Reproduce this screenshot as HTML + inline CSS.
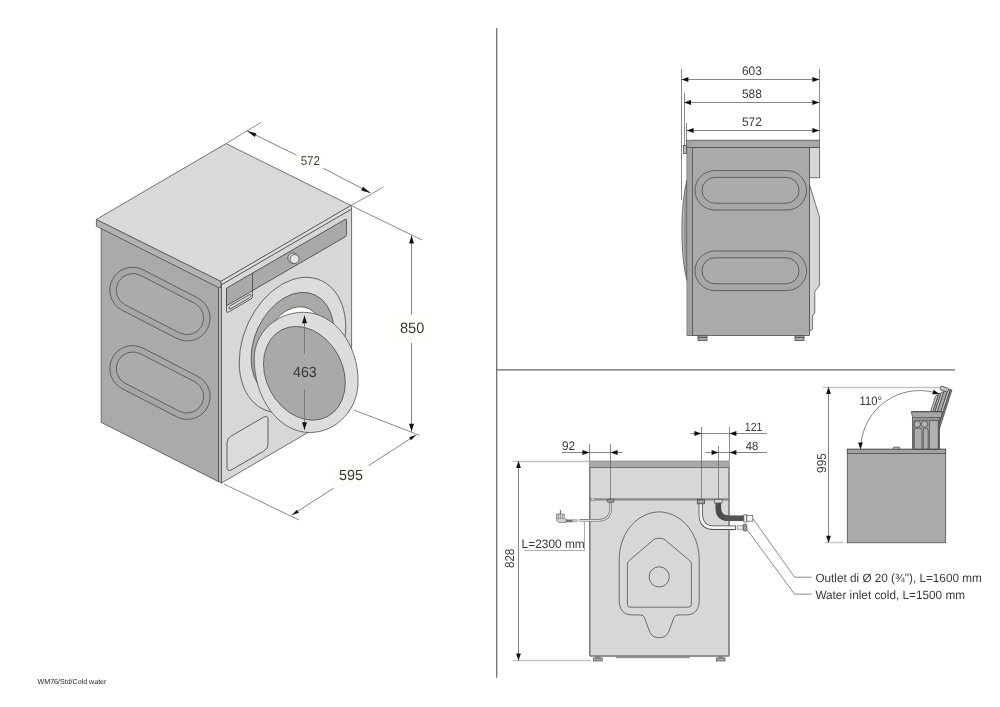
<!DOCTYPE html>
<html><head><meta charset="utf-8"><title>WM76/Std/Cold water</title>
<style>
html,body{margin:0;padding:0;background:#fff;}
body{width:1000px;height:707px;overflow:hidden;font-family:"Liberation Sans",sans-serif;}
svg{display:block;will-change:transform;}
text{font-family:"Liberation Sans",sans-serif;fill:#3a3a3a;-webkit-font-smoothing:antialiased;text-rendering:geometricPrecision;}
.dl{stroke:#767676;stroke-width:0.9;fill:none;}
.ei{stroke:#606060;stroke-width:0.7;fill:none;}
.el{stroke:#585858;stroke-width:0.7;fill:none;}
.eu{stroke:#b0b0b0;stroke-width:1;fill:none;}
.eg{stroke:#c4c4c4;stroke-width:1.5;fill:none;}
.ar{fill:#111;stroke:none;}
.o{stroke:#484848;stroke-width:0.75;}
.on{stroke:#484848;stroke-width:0.75;fill:none;}
.ns{vector-effect:non-scaling-stroke;}
</style></head><body>
<svg width="1000" height="707" viewBox="0 0 1000 707">
<rect width="1000" height="707" fill="#ffffff"/>
<line x1="496.7" y1="28" x2="496.7" y2="677.7" stroke="#666" stroke-width="1.2"/>
<line x1="496.7" y1="369.8" x2="955" y2="369.8" stroke="#666" stroke-width="1.2"/>
<g id="iso">
<line class="el" x1="226.00" y1="143.60" x2="261.00" y2="122.40"/>
<line class="el" x1="351.00" y1="205.50" x2="383.60" y2="187.00"/>
<line class="el" x1="351.00" y1="205.50" x2="422.00" y2="240.00"/>
<line class="el" x1="354.00" y1="410.00" x2="419.50" y2="435.30"/>
<line class="el" x1="224.00" y1="484.00" x2="299.00" y2="520.00"/>
<polygon points="101.2,228 218.5,287 218.5,481.7 101.2,422.4" fill="#aaaaaa" class="o"/>
<polygon points="218.5,286.5 221.5,284.6 221.5,483 218.5,481.7" fill="#b9b9b9" class="o"/>
<polygon points="221.5,284.6 351.6,209 351.6,407 221.5,483" fill="#d7d7d7" class="o"/>
<polygon points="96.4,219.4 221,281.4 221,287.6 218.5,287.6 96.4,226.2" fill="#b2b2b2" class="o"/>
<polygon points="96.4,219.4 226,143.6 351,205.5 221,281.4" fill="#d9d9d9" class="o"/>
<polygon points="221,281.4 351,205.5 351.6,209 221.5,284.6" fill="#dedede" class="o"/>
<path class="o" fill="#a6a6a6" d="M143.05,269.73 L197.75,297.93 A22.80,22.80 0 0 1 176.85,338.47 L122.15,310.27 A22.80,22.80 0 0 1 143.05,269.73 Z"/>
<path class="o" fill="#ababab" d="M140.21,275.25 L194.91,303.45 A16.60,16.60 0 0 1 179.69,332.95 L124.99,304.75 A16.60,16.60 0 0 1 140.21,275.25 Z"/>
<path class="o" fill="#a6a6a6" d="M143.05,348.13 L197.75,376.33 A22.80,22.80 0 0 1 176.85,416.87 L122.15,388.67 A22.80,22.80 0 0 1 143.05,348.13 Z"/>
<path class="o" fill="#ababab" d="M140.21,353.65 L194.91,381.85 A16.60,16.60 0 0 1 179.69,411.35 L124.99,383.15 A16.60,16.60 0 0 1 140.21,353.65 Z"/>
<g transform="matrix(1,-0.58,0,1,221.5,284.6)">
<path class="o" d="M5,6.5 H123.5 Q125,6.5 125,8 V22.5 Q125,24 123.5,24 H5 Z" fill="#a9a9a9"/>
<path class="on" d="M31,6.5 V30 Q31,31.5 29.5,31.5 H7 Q5,31.5 5,29.5 V6.5"/>
<rect class="on" x="7.5" y="26.2" width="22" height="3.2" rx="1.6"/>
<rect class="o" x="5.5" y="157" width="41" height="34" rx="4.5" fill="#dbdbdb"/>
</g>
<g transform="matrix(1,-0.325,0,1,292.5,345)"><ellipse class="o" cx="0" cy="0" rx="53.30" ry="65.45" fill="#dcdcdc"/></g>
<g transform="matrix(1,-0.325,0,1,292.5,345)"><ellipse class="o" cx="0" cy="0" rx="41.41" ry="50.85" fill="#a9a9a9"/></g>
<g transform="matrix(1,-0.325,0,1,292.5,345)"><ellipse class="o" cx="0" cy="0" rx="30.11" ry="36.98" fill="#fdfdf8"/></g>
<circle class="o" cx="293.1" cy="258.1" r="5.3" fill="#cfcfcf"/>
<circle class="o" cx="294.6" cy="259" r="4.5" fill="#e6e6e6"/>
<path class="o" fill="#dddddd" d="M303.30,312.30 C333.57,312.30 358.10,343.28 358.10,381.50 C358.10,409.67 336.52,432.50 309.90,432.50 C279.14,432.50 254.20,399.37 254.20,358.50 C254.20,332.98 276.18,312.30 303.30,312.30 Z"/>
<g transform="matrix(1,0.232,0,1,304.4,373.3)"><ellipse class="o" cx="0" cy="0" rx="40.9" ry="45.9" fill="#a9a9a9"/></g>
<line class="dl" x1="247.10" y1="130.90" x2="296.80" y2="155.30"/>
<line class="dl" x1="323.20" y1="168.20" x2="370.50" y2="192.90"/>
<polygon class="ar" points="247.10,130.90 256.49,133.38 254.69,136.95"/>
<polygon class="ar" points="370.50,192.90 361.11,190.42 362.91,186.85"/>
<rect x="297" y="152" width="26" height="17" fill="#fffffa"/>
<text x="310.30" y="164.80" font-size="12.8" text-anchor="middle" textLength="19.3" lengthAdjust="spacingAndGlyphs">572</text>
<line class="dl" x1="411.50" y1="235.60" x2="411.50" y2="314.70"/>
<line class="dl" x1="411.50" y1="342.90" x2="411.50" y2="431.50"/>
<polygon class="ar" points="411.50,235.60 414.00,243.40 409.00,243.40"/>
<polygon class="ar" points="411.50,431.50 409.00,423.70 414.00,423.70"/>
<rect x="392" y="315" width="39" height="28" fill="#fffffa"/>
<text x="412.10" y="332.70" font-size="15" text-anchor="middle" textLength="24.4" lengthAdjust="spacingAndGlyphs">850</text>
<line class="dl" x1="292.00" y1="515.00" x2="337.00" y2="486.00"/>
<line class="dl" x1="364.75" y1="468.10" x2="416.00" y2="435.00"/>
<polygon class="ar" points="292.00,515.00 296.96,509.78 298.80,512.63"/>
<polygon class="ar" points="416.00,435.00 411.04,440.22 409.20,437.37"/>
<rect x="334" y="462.5" width="34.5" height="27" fill="#fffffa"/>
<text x="351.00" y="479.70" font-size="14.6" text-anchor="middle" textLength="24" lengthAdjust="spacingAndGlyphs">595</text>
<line class="dl" x1="304.50" y1="315.50" x2="304.50" y2="354.00"/>
<line class="dl" x1="304.50" y1="389.00" x2="304.50" y2="430.00"/>
<polygon class="ar" points="304.50,315.50 307.00,323.30 302.00,323.30"/>
<polygon class="ar" points="304.50,430.00 302.00,422.20 307.00,422.20"/>
<text x="304.90" y="376.80" font-size="14.8" text-anchor="middle" textLength="23.8" lengthAdjust="spacingAndGlyphs">463</text>
</g>
<g id="side">
<line class="el" x1="681.50" y1="69.00" x2="681.50" y2="200.00"/>
<line class="el" x1="684.50" y1="93.00" x2="684.50" y2="148.00"/>
<line class="el" x1="686.50" y1="123.00" x2="686.50" y2="140.00"/>
<line class="el" x1="819.50" y1="69.00" x2="819.50" y2="140.00"/>
<path class="o" d="M687,180 C680.2,205 680.2,256 687,280.5 Z" fill="#bdbdbd"/>
<path d="M687,181.5 C683.2,206 683.2,255 687,279 Z" fill="#989898" stroke="#777" stroke-width="0.4"/>
<rect class="o" x="809.4" y="147.4" width="10" height="30.4" fill="#d6d6d6" stroke="#888"/>
<path class="o" d="M809.4,184.3 L819.4,217 V285.3 L814.8,291.5 V313 L812.4,316 V329.5 L809.4,331 Z" fill="#d6d6d6"/>
<rect class="o" x="698.0" y="335.6" width="9" height="1.8" fill="#999"/>
<rect class="o" x="698.0" y="337.4" width="9" height="3.2" fill="#aaa"/>
<rect class="o" x="795.0" y="335.6" width="9" height="1.8" fill="#999"/>
<rect class="o" x="795.0" y="337.4" width="9" height="3.2" fill="#aaa"/>
<rect class="o" x="687" y="147.4" width="122.4" height="188.2" fill="#aaaaaa"/>
<rect x="687.4" y="147.8" width="5" height="187.4" fill="#a3a3a3"/>
<line class="on" x1="692.50" y1="147.40" x2="692.50" y2="335.60"/>
<rect class="o" x="686.6" y="140.2" width="132.8" height="7.2" fill="#a8a8a8"/>
<rect x="687" y="140.6" width="5.4" height="6.6" fill="#a0a0a0"/>
<rect class="o" x="683.6" y="145.4" width="3" height="8" fill="#bbb"/>
<rect class="o" x="695" y="170.6" width="111.6" height="39.4" rx="19.7" fill="#a7a7a7"/>
<rect class="o" x="702" y="177.4" width="97" height="25.8" rx="12.9" fill="#ababab"/>
<rect class="o" x="695" y="251.0" width="111.6" height="39.6" rx="19.8" fill="#a7a7a7"/>
<rect class="o" x="702" y="257.8" width="97" height="26.0" rx="13.0" fill="#ababab"/>
<line class="dl" x1="681.40" y1="79.50" x2="819.40" y2="79.50"/>
<polygon class="ar" points="681.40,79.50 688.40,77.10 688.40,81.90"/>
<polygon class="ar" points="819.40,79.50 812.40,81.90 812.40,77.10"/>
<line class="dl" x1="684.00" y1="102.50" x2="819.40" y2="102.50"/>
<polygon class="ar" points="684.00,102.50 691.00,100.10 691.00,104.90"/>
<polygon class="ar" points="819.40,102.50 812.40,104.90 812.40,100.10"/>
<line class="dl" x1="686.60" y1="130.50" x2="819.40" y2="130.50"/>
<polygon class="ar" points="686.60,130.50 693.60,128.10 693.60,132.90"/>
<polygon class="ar" points="819.40,130.50 812.40,132.90 812.40,128.10"/>
<text x="751.90" y="74.50" font-size="12.4" text-anchor="middle" textLength="19.9" lengthAdjust="spacingAndGlyphs">603</text>
<text x="751.90" y="97.90" font-size="12.4" text-anchor="middle" textLength="19.9" lengthAdjust="spacingAndGlyphs">588</text>
<text x="751.90" y="126.10" font-size="12.4" text-anchor="middle" textLength="19.9" lengthAdjust="spacingAndGlyphs">572</text>
</g>
<g id="back">
<line class="el" x1="589.50" y1="444.00" x2="589.50" y2="461.00"/>
<line class="eg" x1="513.00" y1="461.50" x2="589.00" y2="461.50"/>
<line class="eg" x1="513.00" y1="660.50" x2="591.00" y2="660.50"/>
<line class="el" x1="729.50" y1="427.00" x2="729.50" y2="461.00"/>
<rect x="595.8" y="656" width="4.4" height="2.2" fill="#999" stroke="#666" stroke-width="0.5"/>
<rect x="593.6" y="658" width="8.7" height="3" fill="#a8a8a8" stroke="#555" stroke-width="0.7"/>
<rect x="718.5" y="656" width="4.4" height="2.2" fill="#999" stroke="#666" stroke-width="0.5"/>
<rect x="716.3" y="658" width="8.7" height="3" fill="#a8a8a8" stroke="#555" stroke-width="0.7"/>
<rect x="616" y="656" width="74" height="2.2" fill="#999"/>
<path d="M589.4,467.6 H729.4 V655.4 Q729.4,656.6 728.2,656.6 H590.6 Q589.4,656.6 589.4,655.4 Z" fill="#d7d7d7"/>
<rect x="589.4" y="498.2" width="140" height="2.4" fill="#8c8c8c"/>
<path d="M589.8,467.6 V655.2 Q589.8,656 590.8,656 H728 Q729,656 729,655.2 V467.6" fill="none" stroke="#777" stroke-width="1.5"/>
<path d="M589.4,467.6 V462 Q589.4,461 590.4,461 H728.4 Q729.4,461 729.4,462 V467.6 Z" fill="#a9a9a9" stroke="#808080" stroke-width="0.7"/>
<rect x="589.4" y="467" width="140" height="1" fill="#777"/>
<line class="el" x1="610.50" y1="444.00" x2="610.50" y2="461.00"/>
<line class="ei" x1="610.50" y1="461.00" x2="610.50" y2="500.00"/>
<line class="el" x1="701.50" y1="427.00" x2="701.50" y2="461.00"/>
<line class="ei" x1="701.50" y1="461.00" x2="701.50" y2="500.00"/>
<line class="el" x1="718.50" y1="446.00" x2="718.50" y2="461.00"/>
<line class="ei" x1="718.50" y1="461.00" x2="718.50" y2="500.00"/>
<path class="on" d="M659.2,511.9 C640,511.9 619.2,530 619.2,560 V600 C619.2,609.5 623.5,614.9 632,614.9 H640.5 Q643.4,614.9 644.5,617.8 L649.4,631 C651.4,636 655,637.7 659.2,637.7 C663.4,637.7 667,636 669,631 L673.9,617.8 Q675,614.9 677.9,614.9 H686.4 C694.9,614.9 699.2,609.5 699.2,600 V560 C699.2,530 678.4,511.9 659.2,511.9 Z"/>
<path class="on" d="M653.4,539.9 Q655.2,538.4 657.2,538.4 H661.2 Q663.2,538.4 665,539.9 L689.9,560.8 Q691.4,562.1 691.4,564.4 V604.2 Q691.4,607.2 688.4,607.2 H630.4 Q627.4,607.2 627.4,604.2 V564.4 Q627.4,562.1 628.9,560.8 Z"/>
<circle class="on" cx="659.2" cy="576.9" r="10.1"/>
<path d="M610.6,502.5 V508 Q610.6,520.3 598,520.3 H579.6" fill="none" stroke="#6a6a6a" stroke-width="2.6"/>
<path d="M610.6,502.5 V508 Q610.6,520.3 598,520.3 H580" fill="none" stroke="#dcdcdc" stroke-width="1.3"/>
<rect class="o" x="607.2" y="499.4" width="6.8" height="2.8" rx="1" fill="#a0a0a0"/>
<rect x="591" y="498.2" width="3.5" height="2.2" fill="#ddd" stroke="#777" stroke-width="0.5"/>
<rect x="559.9" y="509.8" width="1.1" height="4.4" fill="#777"/>
<path d="M556.6,514 H564.3 V518.3 L566.1,519.4 V522.5 H558.6 L556.6,520.6 Z" fill="#d4d4d4" stroke="#555" stroke-width="0.6"/>
<path d="M558.4,514.2 V518.4 M560.4,514.2 V518.4 M562.4,514.2 V518.4 M556.8,518.6 H564.2" stroke="#666" stroke-width="0.5" fill="none"/>
<rect x="566.1" y="519.5" width="6.5" height="2.7" fill="#707070"/>
<rect x="572.6" y="519.6" width="4.8" height="2.4" fill="#c4c4c4" stroke="#888" stroke-width="0.4"/>
<line class="eu" x1="584.50" y1="521.00" x2="584.50" y2="550.70"/>
<line class="eu" x1="524.00" y1="550.50" x2="584.70" y2="550.50"/>
<text x="521.60" y="547.70" font-size="12.2" text-anchor="start" textLength="63.2" lengthAdjust="spacingAndGlyphs">L=2300 mm</text>
<path d="M700.8,503.5 V514 Q700.8,527.7 714,527.7 H735.8" fill="none" stroke="#4a4a4a" stroke-width="4.4"/>
<path d="M700.8,503.5 V514 Q700.8,527.7 714,527.7 H736" fill="none" stroke="#f4f4f4" stroke-width="2.8"/>
<rect x="735.2" y="525.6" width="0.8" height="4.2" fill="#555"/>
<rect x="697.3" y="499.4" width="7.2" height="4.4" fill="#9a9a9a" stroke="#444" stroke-width="0.7"/>
<rect x="699.3" y="500.6" width="3.2" height="2" fill="#d0d0d0" stroke="#555" stroke-width="0.4"/>
<rect x="737.2" y="525.8" width="6" height="3.4" fill="#eee" stroke="#666" stroke-width="0.6"/>
<rect x="743.2" y="524.2" width="3.6" height="6.8" rx="1" fill="#999" stroke="#444" stroke-width="0.7"/>
<path d="M718.3,503 V508 Q718.3,518.3 729,518.3 H744" fill="none" stroke="#4a4a4a" stroke-width="5.6"/>
<path d="M724,515.6 V521 M726,515.6 V521 M728,515.6 V521 M730,515.6 V521 M732,515.6 V521 M734,515.6 V521 M736,515.6 V521 M738,515.6 V521 M740,515.6 V521 M742,515.6 V521" stroke="#6a6a6a" stroke-width="0.6"/>
<rect x="714.6" y="499.4" width="7.4" height="3.6" fill="#d8d8d8" stroke="#555" stroke-width="0.7"/>
<path d="M722,500.5 L726,499.2 H728.5" stroke="#888" stroke-width="0.6" fill="none"/>
<rect x="743.8" y="514.8" width="3" height="7.2" fill="#eee" stroke="#555" stroke-width="0.7"/>
<rect x="746.8" y="515.6" width="6" height="5.6" fill="#f4f4f4" stroke="#555" stroke-width="0.7"/>
<path class="el" d="M753,518.7 L794.6,577.2 H811.5"/>
<path class="el" d="M747.3,530 L794.6,594.1 H811.5"/>
<text x="815.40" y="582.10" font-size="12" text-anchor="start" textLength="166.4" lengthAdjust="spacingAndGlyphs">Outlet di Ø 20 (¾&quot;), L=1600 mm</text>
<text x="815.40" y="599.00" font-size="12" text-anchor="start" textLength="149.6" lengthAdjust="spacingAndGlyphs">Water inlet cold, L=1500 mm</text>
<line class="dl" x1="562.00" y1="452.50" x2="622.40" y2="452.50"/>
<polygon class="ar" points="589.40,452.50 582.40,454.90 582.40,450.10"/>
<polygon class="ar" points="610.60,452.50 617.60,450.10 617.60,454.90"/>
<text x="568.60" y="450.20" font-size="12.4" text-anchor="middle" textLength="13.2" lengthAdjust="spacingAndGlyphs">92</text>
<line class="dl" x1="690.40" y1="433.50" x2="767.00" y2="433.50"/>
<polygon class="ar" points="701.40,433.50 694.40,435.90 694.40,431.10"/>
<polygon class="ar" points="729.40,433.50 736.40,431.10 736.40,435.90"/>
<text x="753.60" y="431.00" font-size="12" text-anchor="middle" textLength="17.6" lengthAdjust="spacingAndGlyphs">121</text>
<line class="dl" x1="705.40" y1="452.50" x2="767.00" y2="452.50"/>
<polygon class="ar" points="718.60,452.50 711.60,454.90 711.60,450.10"/>
<polygon class="ar" points="729.40,452.50 736.40,450.10 736.40,454.90"/>
<text x="752.00" y="450.20" font-size="12" text-anchor="middle" textLength="12.6" lengthAdjust="spacingAndGlyphs">48</text>
<line class="dl" x1="518.50" y1="461.00" x2="518.50" y2="660.60"/>
<polygon class="ar" points="518.50,461.00 520.90,468.00 516.10,468.00"/>
<polygon class="ar" points="518.50,660.60 516.10,653.60 520.90,653.60"/>
<text transform="translate(513.5,558.4) rotate(-90)" font-size="12.8" text-anchor="middle" textLength="19.4" lengthAdjust="spacingAndGlyphs">828</text>
</g>
<g id="v995">
<line class="eg" x1="822.80" y1="387.50" x2="940.40" y2="387.50"/>
<line class="eg" x1="825.00" y1="542.50" x2="843.60" y2="542.50"/>
<line class="dl" x1="828.50" y1="387.00" x2="828.50" y2="542.80"/>
<polygon class="ar" points="828.50,387.00 830.90,394.00 826.10,394.00"/>
<polygon class="ar" points="828.50,542.80 826.10,535.80 830.90,535.80"/>
<text transform="translate(825.8,463.1) rotate(-90)" font-size="12.9" text-anchor="middle" textLength="19.6" lengthAdjust="spacingAndGlyphs">995</text>
<rect class="o" x="847.3" y="449.2" width="98.4" height="93.6" fill="#aaaaaa"/>
<rect class="o" x="847.3" y="449.2" width="98.4" height="4.2" fill="#a2a2a2"/>
<rect class="o" x="893.2" y="447.2" width="6.6" height="2" rx="0.8" fill="#bbb"/>
<g transform="rotate(17.9 939.8 427.5)">
<path class="o" d="M926.20,430 V399.00 Q926.20,398.00 927.20,398.00 H928.40 V430 Z" fill="#d2d2d2" stroke-width="0.6"/>
<path class="o" d="M928.40,430 V396.00 Q928.40,395.00 929.40,395.00 H930.40 V430 Z" fill="#b0b0b0" stroke-width="0.6"/>
<path class="o" d="M930.40,430 V394.00 Q930.40,393.00 931.40,393.00 H932.60 V430 Z" fill="#cfcfcf" stroke-width="0.6"/>
<path class="o" d="M932.60,430 V390.50 Q932.60,389.50 933.60,389.50 H936.00 V430 Z" fill="#a8a8a8" stroke-width="0.6"/>
<path class="o" d="M936.00,430 V389.00 Q936.00,388.00 937.00,388.00 H938.20 V430 Z" fill="#c8c8c8" stroke-width="0.6"/>
<path class="o" d="M938.20,430 V389.00 Q938.20,388.00 939.20,388.00 H939.80 V430 Z" fill="#8c8c8c" stroke-width="0.6"/>
<rect class="o" x="928.2" y="387.6" width="8.2" height="3.8" rx="1" fill="#c4c4c4"/>
</g>
<rect class="o" x="912.4" y="417.5" width="27.1" height="31.9" fill="#a6a6a6"/>
<path class="o" d="M911.3,411.6 H942.3 L941.3,417.7 H912.6 Z" fill="#a6a6a6"/>
<path d="M911.2,411.7 H942.4" stroke="#505050" stroke-width="1.1" fill="none"/>
<path class="on" d="M913.9,449 V420.2 H938.6 V449" stroke-width="0.6"/>
<path class="o" d="M914.2,449 V430.5 Q914.2,428.2 916.5,428.2 H919.8 Q922,428.2 922,430.5 V449 Z" fill="#ababab" stroke-width="0.6"/>
<path class="o" d="M923.2,449 V430.5 Q923.2,428.2 925,428.2 H926.5 Q928.2,428.2 928.2,430.5 V449 Z" fill="#ababab" stroke-width="0.6"/>
<path class="o" d="M929.4,449 V422.5 Q929.4,420.6 931.4,420.6 H936.4 Q938.3,420.6 938.3,422.5 V449 Z" fill="#b0b0b0" stroke-width="0.6"/>
<circle class="o" cx="917.3" cy="424.1" r="3.3" fill="#b2b2b2"/>
<circle class="o" cx="924.6" cy="424.1" r="3.3" fill="#b2b2b2"/>
<path class="dl" d="M860.9,444 A59,59 0 0 1 934.3,392.4"/>
<polygon class="ar" points="860.50,449.40 858.10,442.40 862.90,442.40"/>
<polygon class="ar" points="939.60,394.20 932.20,394.24 933.73,389.69"/>
<text x="870.80" y="405.00" font-size="12.2" text-anchor="middle" textLength="22.4" lengthAdjust="spacingAndGlyphs">110°</text>
</g>
<text x="37.60" y="683.60" font-size="7.2" text-anchor="start" textLength="68.8" lengthAdjust="spacingAndGlyphs" style="fill:#262626">WM76/Std/Cold water</text>
</svg>
</body></html>
